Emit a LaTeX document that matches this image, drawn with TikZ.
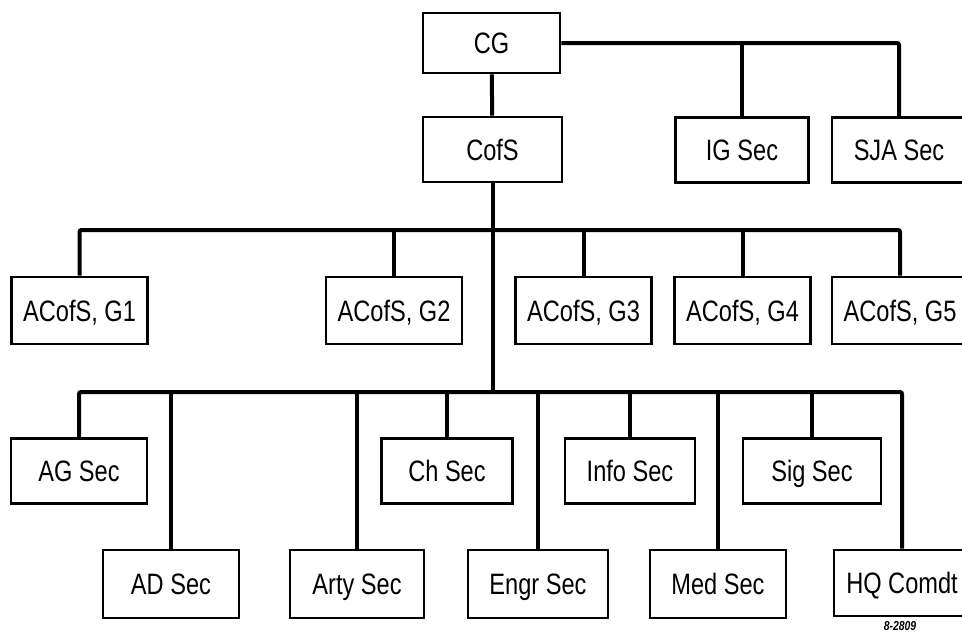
\documentclass[tikz,border=0pt]{standalone}
\usepackage{fontspec}
\setmainfont{Liberation Sans}[FakeStretch=0.8]
\usetikzlibrary{calc}

\tikzset{
    unit/.style={draw, line width=2.6pt, minimum width=136pt, minimum height=65pt,
                 inner sep=0pt, text height=21pt, text depth=0pt,
                 font=\fontsize{29.5}{31}\selectfont},
    link/.style={line width=4pt, rounded corners=2pt}
}

\begin{document}
\begin{tikzpicture}[x=1pt, y=-1pt]
    \useasboundingbox (0,0) rectangle (962,632);
    \clip (0,0) rectangle (962,632);
    \node[unit, minimum height=60pt, minimum width=137pt] (CG) at (491.5,43) {CG};
    \node[unit, minimum width=139pt] (CofS) at (492.5,149.5) {CofS};
    \node[unit, minimum width=133pt] (IG) at (742,150) {IG Sec};
    \node[unit, minimum width=134pt] (SJA) at (899,150) {SJA Sec};
    \node[unit, minimum height=67pt] (G1) at (79.5,310.5) {ACofS, G1};
    \node[unit, minimum height=67pt] (G2) at (394,310.5) {ACofS, G2};
    \node[unit, minimum height=67pt] (G3) at (583.5,310.5) {ACofS, G3};
    \node[unit, minimum height=67pt] (G4) at (742.5,310.5) {ACofS, G4};
    \node[unit, minimum height=67pt] (G5) at (900,310.5) {ACofS, G5};
    \node[unit] (AG) at (79,471) {AG Sec};
    \node[unit, minimum width=131pt] (Ch) at (447,471) {Ch Sec};
    \node[unit, minimum width=130pt] (Info) at (630,471) {Info Sec};
    \node[unit, minimum width=138pt] (Sig) at (812,471) {Sig Sec};
    \node[unit, minimum height=68pt] (AD) at (171,584) {AD Sec};
    \node[unit, minimum height=68pt, minimum width=134pt] (Arty) at (357,584) {Arty Sec};
    \node[unit, minimum height=68pt, minimum width=140pt] (Engr) at (538,584) {Engr Sec};
    \node[unit, minimum height=68pt] (Med) at (718,584) {Med Sec};
    \node[unit, minimum height=66pt] (HQ) at (902,583) {HQ Comdt};
    \node[font=\fontsize{13}{13}\selectfont\itshape\bfseries, anchor=south, inner sep=0pt] (code) at (900,631) {8-2809};
    \coordinate (gbus) at (492,230);
    \coordinate (sbus) at (492,392);
    \draw[link] (CG) -- (CofS);
    \draw[link] (CG.east) -| (SJA.north);
    \draw[link] (IG.north) -- (IG.north |- CG.east);
    \draw[link] (CofS.south) -- (CofS.south |- sbus);
    \draw[link] (G1.north) |- (gbus) -| (G5.north);
    \foreach \g in {G2,G3,G4}
        \draw[link] (\g.north) -- (\g.north |- gbus);
    \draw[link] (AG.north) |- (sbus) -| (HQ.north);
    \foreach \s in {AD,Arty,Ch,Engr,Info,Med,Sig}
        \draw[link] (\s.north) -- (\s.north |- sbus);
\end{tikzpicture}
\end{document}
